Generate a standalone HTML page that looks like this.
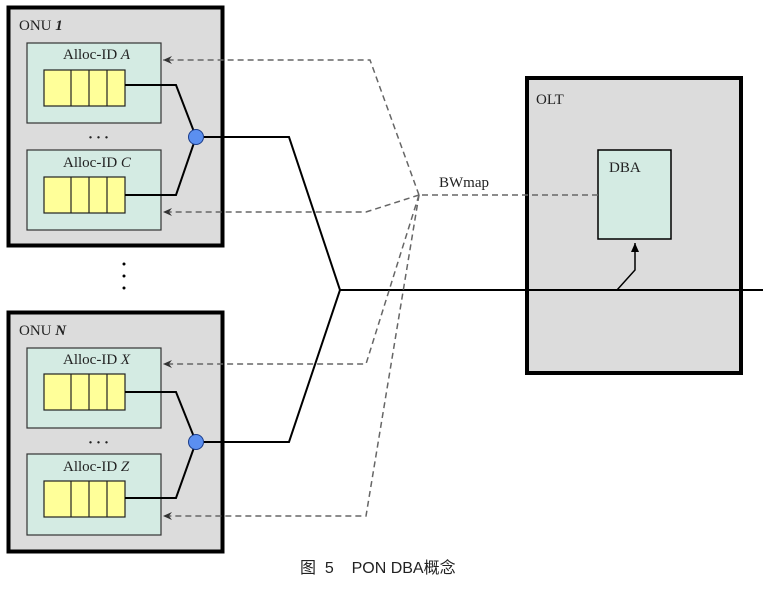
<!DOCTYPE html>
<html><head><meta charset="utf-8"><style>
html,body{margin:0;padding:0;background:#fff;}
svg{display:block;}
.t{font-family:"Liberation Serif",serif;font-size:15px;fill:#222;}
</style></head><body>
<svg width="763" height="605" viewBox="0 0 763 605" xmlns="http://www.w3.org/2000/svg">
<defs>
<marker id="ah" markerWidth="10" markerHeight="8" refX="9" refY="4" orient="auto" markerUnits="userSpaceOnUse">
<path d="M0,0 L9,4 L0,8 L3,4 Z" fill="#333"/></marker>
<marker id="up" markerWidth="10" markerHeight="8" refX="9" refY="4" orient="auto" markerUnits="userSpaceOnUse">
<path d="M0,0 L9,4 L0,8 Z" fill="#000"/></marker>
<g id="q">
<rect x="44" y="0" width="81" height="36" fill="#ffff99" stroke="#222" stroke-width="1.2"/>
<line x1="71" y1="0" x2="71" y2="36" stroke="#222" stroke-width="1.2"/>
<line x1="89" y1="0" x2="89" y2="36" stroke="#222" stroke-width="1.2"/>
<line x1="107" y1="0" x2="107" y2="36" stroke="#222" stroke-width="1.2"/>
</g>
</defs>
<!-- ONU 1 -->
<rect x="8.5" y="7.5" width="214" height="238" fill="#dcdcdc" stroke="#000" stroke-width="4"/>
<text x="19" y="30" class="t">ONU <tspan font-style="italic" font-weight="bold">1</tspan></text>
<rect x="27" y="43" width="134" height="80" fill="#d4ebe3" stroke="#333" stroke-width="1.2"/>
<text x="63" y="59" class="t">Alloc-ID <tspan font-style="italic">A</tspan></text>
<use href="#q" y="70"/>
<text x="88" y="142" class="t" font-weight="bold" letter-spacing="3">···</text>
<rect x="27" y="150" width="134" height="80" fill="#d4ebe3" stroke="#333" stroke-width="1.2"/>
<text x="63" y="167" class="t">Alloc-ID <tspan font-style="italic">C</tspan></text>
<use href="#q" y="177"/>
<polyline points="125,85 176,85 196,137 176,195 125,195" fill="none" stroke="#000" stroke-width="2"/>
<circle cx="196" cy="137" r="7.5" fill="#5b8ff0" stroke="#1a3c8a" stroke-width="1"/>
<circle cx="124" cy="264" r="1.5" fill="#000"/><circle cx="124" cy="276" r="1.5" fill="#000"/><circle cx="124" cy="288" r="1.5" fill="#000"/>
<!-- ONU N -->
<rect x="8.5" y="312.5" width="214" height="239" fill="#dcdcdc" stroke="#000" stroke-width="4"/>
<text x="19" y="335" class="t">ONU <tspan font-style="italic" font-weight="bold">N</tspan></text>
<rect x="27" y="348" width="134" height="80" fill="#d4ebe3" stroke="#333" stroke-width="1.2"/>
<text x="63" y="364" class="t">Alloc-ID <tspan font-style="italic">X</tspan></text>
<use href="#q" y="374"/>
<text x="88" y="447" class="t" font-weight="bold" letter-spacing="3">···</text>
<rect x="27" y="454" width="134" height="81" fill="#d4ebe3" stroke="#333" stroke-width="1.2"/>
<text x="63" y="471" class="t">Alloc-ID <tspan font-style="italic">Z</tspan></text>
<use href="#q" y="481"/>
<polyline points="125,392 176,392 196,442 176,498 125,498" fill="none" stroke="#000" stroke-width="2"/>
<circle cx="196" cy="442" r="7.5" fill="#5b8ff0" stroke="#1a3c8a" stroke-width="1"/>
<!-- OLT -->
<rect x="527" y="78" width="214" height="295" fill="#dcdcdc" stroke="#000" stroke-width="4"/>
<text x="536" y="104" class="t">OLT</text>
<rect x="598" y="150" width="73" height="89" fill="#d4ebe3" stroke="#000" stroke-width="1.5"/>
<text x="609" y="172" class="t">DBA</text>
<polyline points="204,137 289,137 340,290 289,442 204,442" fill="none" stroke="#000" stroke-width="2"/>
<line x1="340" y1="290" x2="763" y2="290" stroke="#000" stroke-width="2"/>
<polyline points="617,290 635,270 635,243" fill="none" stroke="#000" stroke-width="1.5" marker-end="url(#up)"/>
<g fill="none" stroke="#666" stroke-width="1.5" stroke-dasharray="6,4">
<line x1="598" y1="195" x2="419" y2="195"/>
<polyline points="419,195 370,60 163,60" marker-end="url(#ah)"/>
<polyline points="419,195 366,212 163,212" marker-end="url(#ah)"/>
<polyline points="419,195 366,364 163,364" marker-end="url(#ah)"/>
<polyline points="419,195 366,516 163,516" marker-end="url(#ah)"/>
</g>
<text x="439" y="187" class="t">BWmap</text>
<text x="300" y="573" font-family="'Liberation Sans','Noto Sans CJK SC',sans-serif" font-size="16" fill="#222" xml:space="preserve">图  5    PON DBA概念</text>
</svg>
</body></html>
